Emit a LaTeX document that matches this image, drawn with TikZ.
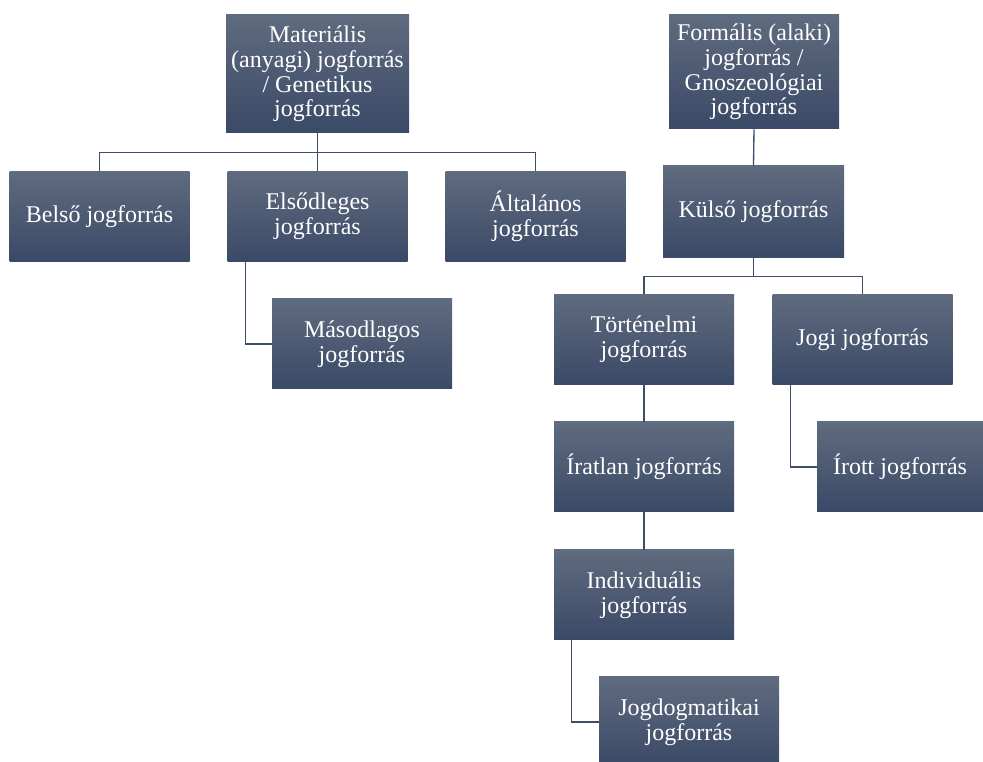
\documentclass[tikz,border=0pt]{standalone}
\usepackage{fontspec}
\setmainfont{Liberation Serif}
\definecolor{boxtop}{HTML}{5F6B7E}
\definecolor{boxbot}{HTML}{3A4967}
\definecolor{linecol}{HTML}{3F4D68}
\tikzset{
  jbox/.style={rectangle, top color=boxtop, bottom color=boxbot, draw=none,
    text=white, align=center, inner sep=2pt,
    font=\fontsize{18}{18.4}\selectfont,
    minimum width=135pt, minimum height=67.5pt},
  conn/.style={draw=linecol, line width=1pt}
}
\begin{document}
\begin{tikzpicture}[x=0.75pt, y=-0.75pt]
\clip (0,0) rectangle (983,762);
% top row
\node[jbox, minimum width=137.25pt, minimum height=88.5pt] (mat) at (317.5,74) {Materiális\\(anyagi) jogforrás\\/ Genetikus\\jogforrás};
\node[jbox, minimum width=127.5pt, minimum height=85.5pt] (form) at (754,72) {Formális (alaki)\\jogforrás /\\Gnoszeológiai\\jogforrás};
% material branch
\node[jbox] (belso) at (99.5,216.5) {Belső jogforrás};
\node[jbox] (elso) at (317.5,216.5) {Elsődleges\\jogforrás};
\node[jbox] (alt) at (535.5,216.5) {Általános\\jogforrás};
\node[jbox] (masod) at (362,344) {Másodlagos\\jogforrás};
% formal branch
\node[jbox, minimum width=135.75pt, minimum height=69pt] (kulso) at (753.5,212) {Külső jogforrás};
\node[jbox] (tort) at (644,339.5) {Történelmi\\jogforrás};
\node[jbox] (jogi) at (862.5,339.5) {Jogi jogforrás};
\node[jbox] (irat) at (644,467) {Íratlan jogforrás};
\node[jbox, minimum width=124.5pt] (irott) at (900,467) {Írott jogforrás};
\node[jbox] (indiv) at (644,595) {Individuális\\jogforrás};
\node[jbox] (dogm) at (689,722) {Jogdogmatikai\\jogforrás};
% connectors
\draw[conn] (mat.south) -- ++(0,19) -| (belso.north);
\draw[conn] (mat.south) -- ++(0,19) -| (alt.north);
\draw[conn] (mat.south) -- (elso.north);
\draw[conn] ([xshift=13.5pt]elso.south west) |- (masod.west);
\draw[conn] (form.south) -- (kulso.north);
\draw[conn] (kulso.south) -- ++(0,18) -| (tort.north);
\draw[conn] (kulso.south) -- ++(0,18) -| (jogi.north);
\draw[conn] ([xshift=13.5pt]jogi.south west) |- (irott.west);
\draw[conn] (tort.south) -- (irat.north);
\draw[conn] (irat.south) -- (indiv.north);
\draw[conn] ([xshift=13.5pt]indiv.south west) |- (dogm.west);
\end{tikzpicture}
\end{document}
